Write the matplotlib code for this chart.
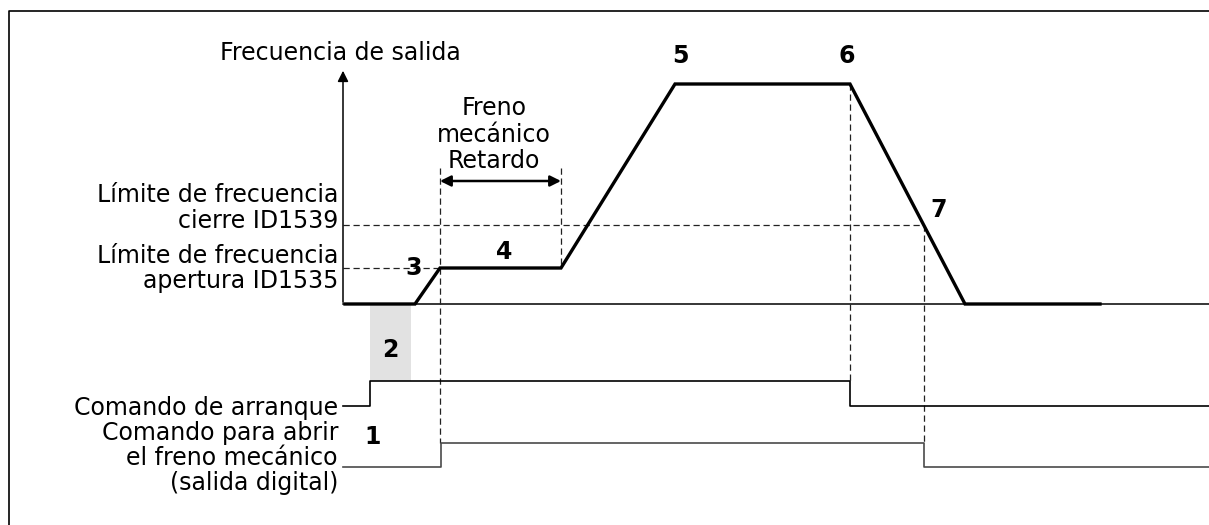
import matplotlib
matplotlib.use("Agg")
import matplotlib.pyplot as plt
from matplotlib.patches import Rectangle

# ---- data (diagram coordinates; y grows downward) ----
freq_t = [345, 415, 440, 561, 675, 850, 965, 1100]
freq_v = [304, 304, 268, 268, 84, 84, 304, 304]

start_t = [343, 370, 370, 850, 850, 1209]
start_v = [406, 406, 381, 381, 406, 406]

brake_t = [343, 441, 441, 924, 924, 1209]
brake_v = [467, 467, 443, 443, 467, 467]

level_close = 225
level_open = 268
t_open = 440
t_delay_end = 561
t_stop = 850
t_close = 924

left_lines = ["Límite de frecuencia", "cierre ID1539",
              "Límite de frecuencia", "apertura ID1535",
              "Comando de arranque",
              "Comando para abrir", "el freno mecánico", "(salida digital)"]
left_baselines = [202, 228, 263, 288, 415, 440, 465, 490]
delay_lines = ["Freno", "mecánico", "Retardo"]
delay_baselines = [115, 142, 168]
numbers = ["1", "2", "3", "4", "5", "6", "7"]

fig = plt.figure(figsize=(12.09, 5.25), dpi=100)
ax = fig.add_axes([0, 0, 1, 1])
ax.set_xlim(0, 1209)
ax.set_ylim(525, 0)
ax.axis("off")

FS = 17
K = "black"

# frame
ax.plot([9, 9, 1209], [525, 11, 11], color=K, lw=1.2, solid_capstyle="butt")

# gray delay box (2)
ax.add_patch(Rectangle((370, 305), 41, 76, facecolor="#e2e2e2", edgecolor="none", zorder=0))

# baseline and y axis
ax.plot([343, 1209], [304, 304], color=K, lw=1.1)
ax.annotate("", xy=(343, 68), xytext=(343, 305),
            arrowprops=dict(arrowstyle="-|>", color=K, lw=1.1, mutation_scale=16))

# dashed guides
dk = dict(color="#222222", lw=0.9, dashes=(5, 3))
ax.plot([343, t_close], [level_close, level_close], **dk)
ax.plot([343, t_open], [level_open, level_open], **dk)
ax.plot([t_open, t_open], [168, brake_v[2]], **dk)
ax.plot([t_delay_end, t_delay_end], [168, level_open], **dk)
ax.plot([t_stop, t_stop], [freq_v[5], start_v[2]], **dk)
ax.plot([t_close, t_close], [level_close, brake_v[2]], **dk)

# delay double arrow
ax.annotate("", xy=(t_open, 181), xytext=(t_delay_end, 181),
            arrowprops=dict(arrowstyle="<|-|>", color=K, lw=1.8, mutation_scale=16,
                            shrinkA=0, shrinkB=0))

# frequency profile
ax.plot(freq_t, freq_v, color=K, lw=2.4, solid_joinstyle="miter")

# command signals
ax.plot(start_t, start_v, color=K, lw=1.2)
ax.plot(brake_t, brake_v, color="#4a4a4a", lw=1.2)

# texts
ax.text(340, 60, "Frecuencia de salida", fontsize=FS, ha="center", va="baseline")
for s, b in zip(delay_lines, delay_baselines):
    ax.text(494, b, s, fontsize=FS, ha="center", va="baseline")
for s, b in zip(left_lines, left_baselines):
    ax.text(338, b, s, fontsize=FS, ha="right", va="baseline")

bold = dict(fontsize=FS, fontweight="bold", ha="center", va="center")
ax.text(373, 437, numbers[0], **bold)
ax.text(390, 350, numbers[1], **bold)
ax.text(414, 268, numbers[2], **bold)
ax.text(504, 252, numbers[3], **bold)
ax.text(680, 56, numbers[4], **bold)
ax.text(847, 56, numbers[5], **bold)
ax.text(939, 210, numbers[6], **bold)

fig.savefig("out.png", dpi=100)
